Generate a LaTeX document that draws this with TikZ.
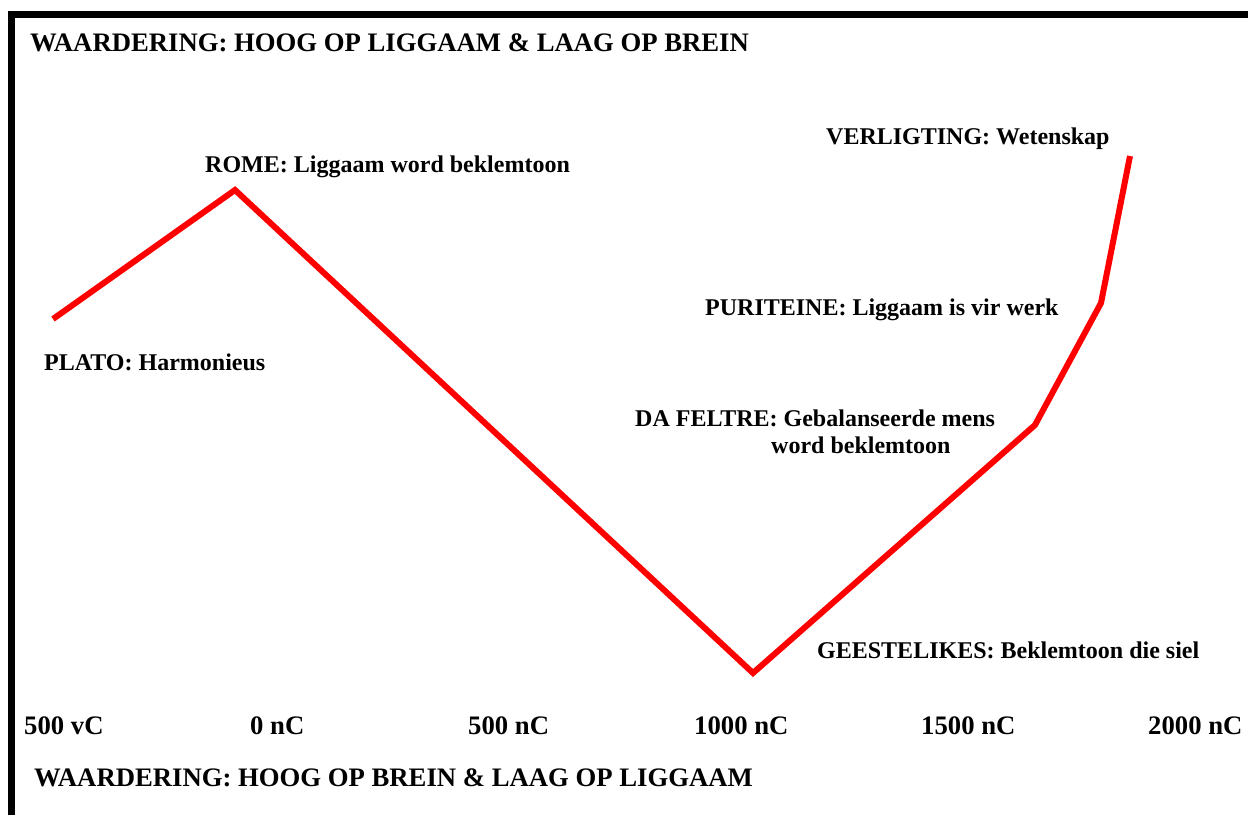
\documentclass[tikz,border=0pt]{standalone}
\usepackage{fontspec}
\setmainfont{Liberation Serif}
\begin{document}
\begin{tikzpicture}[x=1pt,y=-1pt,
  lbl/.style={anchor=base west,inner sep=0pt,font=\fontsize{24}{27}\selectfont\bfseries},
  big/.style={lbl,font=\fontsize{26.7}{30}\selectfont\bfseries},
  trend/.style={red,line width=6pt,line join=miter}]
\useasboundingbox (0,0) rectangle (1248,815);
\fill[white] (0,0) rectangle (1248,815);
% frame along top and left edge
\draw[line width=7pt,line join=miter] (11.5,815) -- (11.5,14.5) -- (1248,14.5);

% headings
\node[big] (hoog) at (30,51) {WAARDERING: HOOG OP LIGGAAM \& LAAG OP BREIN};
\node[big] (laag) at (34,786) {WAARDERING: HOOG OP BREIN \& LAAG OP LIGGAAM};

% period labels
\node[lbl] (plato) at (44,370) {PLATO: Harmonieus};
\node[lbl] (rome) at (205,172) {ROME: Liggaam word beklemtoon};
\node[lbl] (geest) at (817,658) {GEESTELIKES: Beklemtoon die siel};
\node[lbl] (feltA) at (635,426) {DA FELTRE: Gebalanseerde mens};
\node[lbl] (feltB) at (771,453) {word beklemtoon};
\node[lbl] (purit) at (705,315) {PURITEINE: Liggaam is vir werk};
\node[lbl] (verl) at (826,144) {VERLIGTING: Wetenskap};

% time axis
\node[big] (t1) at (24,734) {500 vC};
\node[big] (t2) at (250,734) {0 nC};
\node[big] (t3) at (468,734) {500 nC};
\node[big] (t4) at (694,734) {1000 nC};
\node[big] (t5) at (921,734) {1500 nC};
\node[big] (t6) at (1148,734) {2000 nC};

% valuation curve
\coordinate (p1) at (53,319);
\coordinate (p2) at (235,190);
\coordinate (p3) at (753,673);
\coordinate (p4) at (1035,425);
\coordinate (p5) at (1101,303);
\coordinate (p6) at (1130,156);
\draw[trend] (p1) -- (p2) -- (p3) -- (p4) -- (p5) -- (p6);
\end{tikzpicture}
\end{document}
